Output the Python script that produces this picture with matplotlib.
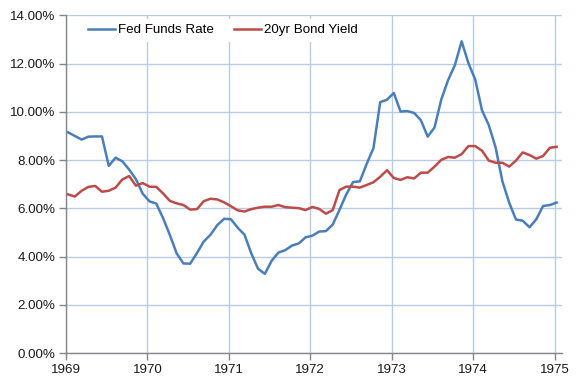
import matplotlib
matplotlib.use("Agg")
import matplotlib.pyplot as plt
import numpy as np
from matplotlib.ticker import FuncFormatter

plt.rcParams["font.family"] = ["Liberation Sans", "DejaVu Sans"]

# monthly observations, first one just after the 1969 tick
start = 1969.025
fed_funds = [9.15, 9.00, 8.85, 8.97,
             8.98, 8.98, 7.76, 8.10, 7.95, 7.61, 7.21, 6.61, 6.29, 6.20, 5.60, 4.90,
             4.14, 3.72, 3.71, 4.15, 4.63, 4.91, 5.31, 5.57, 5.55, 5.20, 4.91, 4.14,
             3.50, 3.29, 3.83, 4.17, 4.27, 4.46, 4.55, 4.80, 4.87, 5.04, 5.06, 5.33,
             5.94, 6.58, 7.09, 7.12, 7.84, 8.49, 10.40, 10.50, 10.78, 10.01, 10.03, 9.95,
             9.65, 8.97, 9.35, 10.51, 11.31, 11.93, 12.92, 12.01, 11.34, 10.06, 9.45, 8.53,
             7.13, 6.24, 5.54, 5.49, 5.22, 5.55, 6.10, 6.14, 6.24]
bond_20yr = [6.58, 6.49, 6.73, 6.89, 6.93, 6.69, 6.73, 6.86, 7.20, 7.34,
             6.94, 7.05, 6.90, 6.89, 6.62, 6.31, 6.21, 6.14, 5.95, 5.97,
             6.30, 6.40, 6.37, 6.25, 6.09, 5.92, 5.87, 5.97, 6.03, 6.07,
             6.07, 6.14, 6.05, 6.03, 6.01, 5.93, 6.06, 5.98, 5.78, 5.93,
             6.76, 6.90, 6.90, 6.86, 6.97, 7.08, 7.31, 7.58, 7.26, 7.18,
             7.29, 7.24, 7.48, 7.48, 7.73, 8.01, 8.13, 8.10, 8.25, 8.58,
             8.58, 8.39, 7.98, 7.89, 7.89, 7.73, 7.98, 8.32, 8.21, 8.06,
             8.17, 8.51, 8.55]
years = [1969, 1970, 1971, 1972, 1973, 1974, 1975]
yticks = [0, 2, 4, 6, 8, 10, 12, 14]

x = start + np.arange(len(fed_funds)) / 12.0

fig = plt.figure(figsize=(5.76, 3.87), dpi=100)
ax = fig.add_axes([0.1146, 0.0871, 0.861, 0.8736])

grid_c = "#b9cce6"
ax.plot(x, fed_funds, color="#4a7ebb", lw=1.8, label="Fed Funds Rate", zorder=3)
ax.plot(x, bond_20yr, color="#be4b48", lw=1.8, label="20yr Bond Yield", zorder=3)

ax.set_xlim(1969, 1975.09)
ax.set_ylim(0, 14)
ax.set_xticks(years)
ax.set_yticks(yticks)
ax.yaxis.set_major_formatter(FuncFormatter(lambda v, p: "%.2f%%" % v))
ax.grid(True, color=grid_c, lw=1.0, zorder=0)
ax.set_axisbelow(True)

for s in ["top", "right"]:
    ax.spines[s].set_visible(False)
for s in ["left", "bottom"]:
    ax.spines[s].set_color("#868686")
    ax.spines[s].set_linewidth(1.0)
ax.tick_params(axis="both", colors="#868686", labelcolor="#1a1a1a",
               labelsize=9.6, length=5, width=1.0, direction="out")
ax.tick_params(axis="x", pad=2.5)
ax.tick_params(axis="y", pad=2.5)

leg = ax.legend(loc="center left", bbox_to_anchor=(0.034, 0.956), ncol=2,
                frameon=True, fontsize=9.6, handlelength=2.0, handletextpad=0.25,
                columnspacing=1.5, borderpad=0.4, borderaxespad=0)
leg.get_frame().set_facecolor("white")
leg.get_frame().set_edgecolor("none")
leg.get_frame().set_alpha(1)

plt.savefig("out.png", dpi=100)
